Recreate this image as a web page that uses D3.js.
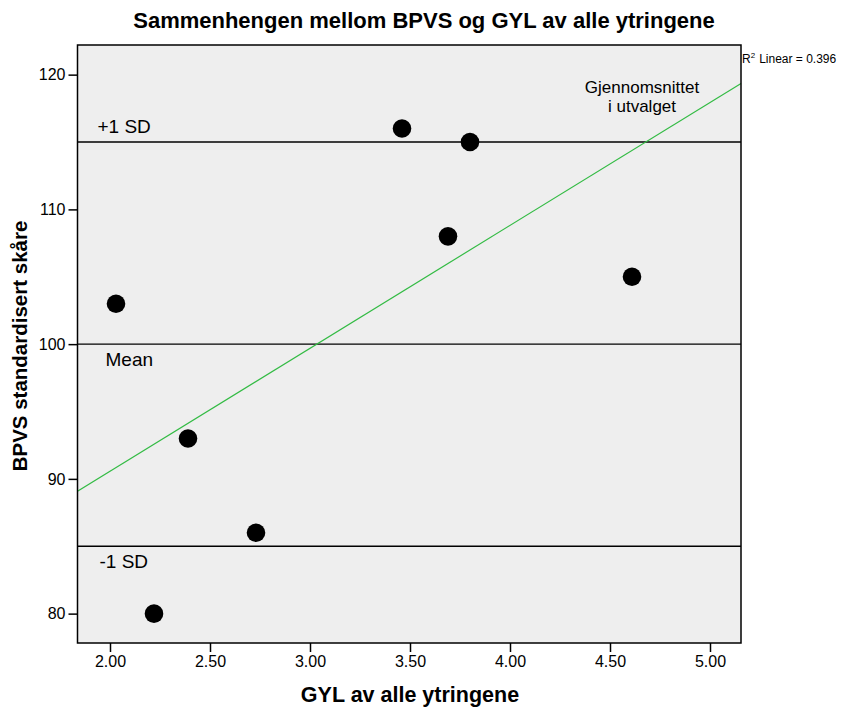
<!DOCTYPE html>
<html>
<head>
<meta charset="utf-8">
<script src="https://cdn.jsdelivr.net/npm/d3@7"></script>
<style>
  html, body { margin: 0; padding: 0; background: #fff; }
  svg { display: block; font-family: "Liberation Sans", Arial, sans-serif; }
</style>
</head>
<body>
<svg id="chart" width="865" height="714"></svg>
<script>
// GYL score and BPVS standardised score per child
const gyl  = [2.03, 2.22, 2.39, 2.73, 3.46, 3.69, 3.80, 4.61];
const bpvs = [103, 80, 93, 86, 116, 108, 115, 105];

const xTicks = [2.00, 2.50, 3.00, 3.50, 4.00, 4.50, 5.00];
const yTicks = [80, 90, 100, 110, 120];

// Reference lines: norm mean and ±1 SD
const refLines = [
  { value: 115, label: "+1 SD", dx: 20, dy: -9 },
  { value: 100, label: "Mean", dx: 28, dy: 22 },
  { value: 85,  label: "-1 SD", dx: 22, dy: 22 }
];

const r2Value = 0.396;

const svg = d3.select("#chart");
const plot = { left: 77.5, right: 741, top: 45, bottom: 643 };

const x = d3.scaleLinear().domain([1.8375, 5.155]).range([plot.left, plot.right]);
const y = d3.scaleLinear().domain([77.82, 122.2]).range([plot.bottom, plot.top]);

// Plot background
svg.append("rect")
  .attr("x", plot.left).attr("y", plot.top)
  .attr("width", plot.right - plot.left).attr("height", plot.bottom - plot.top)
  .attr("fill", "#eeeeee");

// Reference lines
const refG = svg.append("g");
refG.selectAll("line").data(refLines).join("line")
  .attr("x1", plot.left).attr("x2", plot.right)
  .attr("y1", d => y(d.value)).attr("y2", d => y(d.value))
  .attr("stroke", "#000").attr("stroke-width", 1.3);
refG.selectAll("text").data(refLines).join("text")
  .attr("x", d => plot.left + d.dx).attr("y", d => y(d.value) + d.dy)
  .attr("font-size", 19).attr("fill", "#000")
  .text(d => d.label);

// Least-squares fit line
const mx = d3.mean(gyl), my = d3.mean(bpvs);
let sxy = 0, sxx = 0;
gyl.forEach((v, i) => { sxy += (v - mx) * (bpvs[i] - my); sxx += (v - mx) * (v - mx); });
const slope = sxy / sxx, intercept = my - slope * mx;
const [x0, x1] = x.domain();
svg.append("line")
  .attr("x1", x(x0)).attr("y1", y(intercept + slope * x0))
  .attr("x2", x(x1)).attr("y2", y(intercept + slope * x1))
  .attr("stroke", "#33bb44").attr("stroke-width", 1.2);

// Sample-mean annotation
const annot = svg.append("text")
  .attr("text-anchor", "middle").attr("font-size", 17).attr("fill", "#000");
annot.append("tspan").attr("x", 642).attr("y", 93).text("Gjennomsnittet");
annot.append("tspan").attr("x", 642).attr("y", 112).text("i utvalget");

// Points
svg.append("g").selectAll("circle").data(gyl).join("circle")
  .attr("cx", d => x(d)).attr("cy", (d, i) => y(bpvs[i]))
  .attr("r", 9.3).attr("fill", "#000");

// Frame
svg.append("rect")
  .attr("x", plot.left).attr("y", plot.top)
  .attr("width", plot.right - plot.left).attr("height", plot.bottom - plot.top)
  .attr("fill", "none").attr("stroke", "#000").attr("stroke-width", 1.5);

// Axes
const xAxis = svg.append("g")
  .attr("transform", `translate(0,${plot.bottom})`)
  .call(d3.axisBottom(x).tickValues(xTicks).tickFormat(d3.format(".2f")).tickSize(9).tickPadding(4));
const yAxis = svg.append("g")
  .attr("transform", `translate(${plot.left},0)`)
  .call(d3.axisLeft(y).tickValues(yTicks).tickFormat(d3.format("d")).tickSize(9).tickPadding(3));
[xAxis, yAxis].forEach(a => {
  a.select(".domain").remove();
  a.selectAll(".tick line").attr("stroke", "#000").attr("stroke-width", 1.5);
  a.selectAll(".tick text").attr("font-size", 16).attr("fill", "#000")
    .attr("font-family", "'Liberation Sans', Arial, sans-serif");
});

// R² label
const r2 = svg.append("text").attr("x", 742).attr("y", 63).attr("font-size", 12).attr("fill", "#000");
r2.append("tspan").text("R");
r2.append("tspan").attr("font-size", 8).attr("dy", -5).text("2");
r2.append("tspan").attr("dy", 5).attr("dx", 4).text(`Linear = ${r2Value.toFixed(3)}`);

// Titles
svg.append("text")
  .attr("x", 424).attr("y", 28).attr("text-anchor", "middle")
  .attr("font-size", 22).attr("font-weight", "bold")
  .text("Sammenhengen mellom BPVS og GYL av alle ytringene");
svg.append("text")
  .attr("x", 410).attr("y", 702).attr("text-anchor", "middle")
  .attr("font-size", 21.5).attr("font-weight", "bold")
  .text("GYL av alle ytringene");
svg.append("text")
  .attr("transform", "translate(27,346) rotate(-90)")
  .attr("text-anchor", "middle")
  .attr("font-size", 20.5).attr("font-weight", "bold")
  .text("BPVS standardisert skåre");
</script>
</body>
</html>
